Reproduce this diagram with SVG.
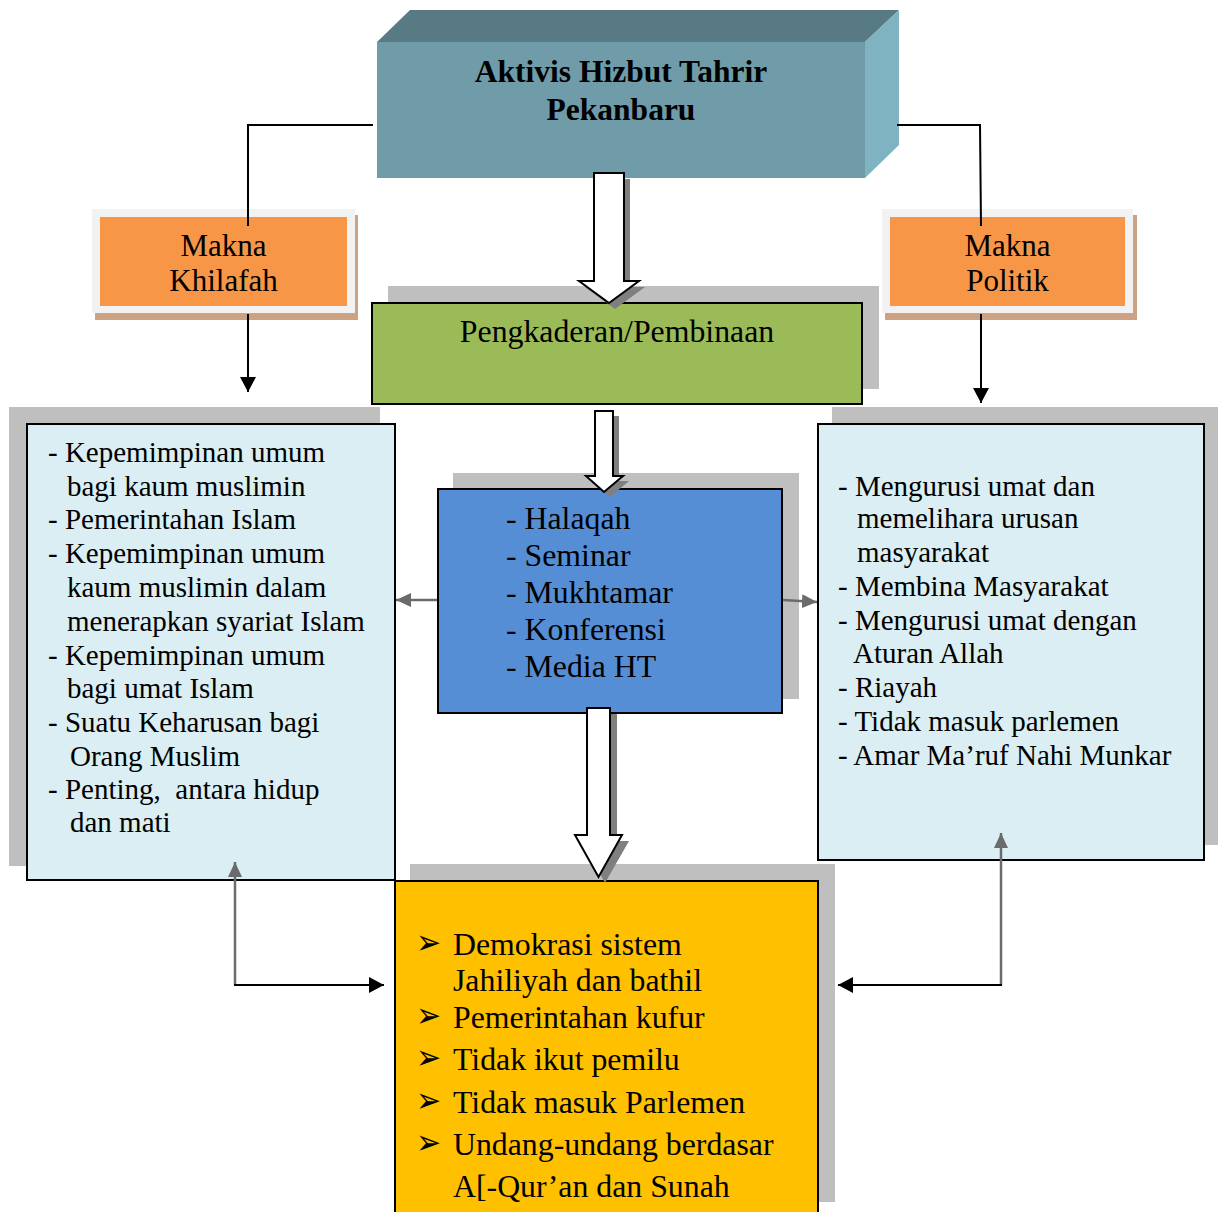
<svg xmlns="http://www.w3.org/2000/svg" width="1218" height="1212" viewBox="0 0 1218 1212">
<defs>
<style>
.t{font-family:"Liberation Serif","Times New Roman",serif;fill:#000;white-space:pre}
.s29{font-size:29px}
.s31{font-size:31px}
.s32{font-size:31.8px}
.c{text-anchor:middle}
.shadow{fill:#BFBFBF}
.ln{fill:none;stroke:#000;stroke-width:2}
.lg{fill:none;stroke:#6B6B6B;stroke-width:2.5}
.blk{fill:#fff;stroke:#000;stroke-width:2;stroke-linejoin:miter}
.bsh{fill:#7F7F7F}
.bul{font-family:"DejaVu Sans",sans-serif;font-size:30px}
</style>
<marker id="ab" markerUnits="userSpaceOnUse" markerWidth="16" markerHeight="16" refX="15" refY="8" orient="auto">
<path d="M0,0 L15,8 L0,16 Z" fill="#000"/>
</marker>
<marker id="ag" markerUnits="userSpaceOnUse" markerWidth="16" markerHeight="14" refX="15" refY="7" orient="auto">
<path d="M0,0 L15,7 L0,14 Z" fill="#6B6B6B"/>
</marker>
</defs>
<rect width="1218" height="1212" fill="#fff"/>

<g id="node-top">
<polygon points="377,42 410,10 899,10 865,42" fill="#587A84"/>
<polygon points="865,42 899,10 899,145 865,178" fill="#7FB3C2"/>
<rect x="377" y="42" width="488" height="136" fill="#6F9CA8"/>
<text class="t c" x="621" y="82" font-size="31.5" font-weight="bold">Aktivis Hizbut Tahrir</text>
<text class="t c" x="621" y="120" font-size="31.5" font-weight="bold">Pekanbaru</text>
</g>

<g id="node-khilafah">
<rect x="95" y="215" width="263" height="105" fill="#CDA283"/>
<rect x="92" y="209" width="263" height="104" fill="#F2F2F2"/>
<rect x="100" y="217" width="247" height="89" fill="#F79646"/>
<text class="t c s31" x="223.5" y="256">Makna</text>
<text class="t c s31" x="223.5" y="291">Khilafah</text>
</g>

<g id="node-politik">
<rect x="885" y="215" width="252" height="105" fill="#CDA283"/>
<rect x="882" y="209" width="251" height="104" fill="#F2F2F2"/>
<rect x="890" y="217" width="235" height="89" fill="#F79646"/>
<text class="t c s31" x="1007.5" y="256">Makna</text>
<text class="t c s31" x="1007.5" y="291">Politik</text>
</g>

<g id="node-pengkaderan">
<rect class="shadow" x="388" y="286" width="491" height="103"/>
<rect x="372" y="303" width="490" height="101" fill="#9BBB59" stroke="#000" stroke-width="2"/>
<text class="t c s32" x="617" y="342">Pengkaderan/Pembinaan</text>
</g>

<g id="node-khilafah-list">
<rect class="shadow" x="9" y="407" width="371" height="459"/>
<rect x="27" y="424" width="368" height="456" fill="#DAEEF3" stroke="#000" stroke-width="2"/>
<text class="t s29" x="48" y="462">- Kepemimpinan umum</text>
<text class="t s29" x="67" y="496">bagi kaum muslimin</text>
<text class="t s29" x="48" y="529">- Pemerintahan Islam</text>
<text class="t s29" x="48" y="563">- Kepemimpinan umum</text>
<text class="t s29" x="67" y="597">kaum muslimin dalam</text>
<text class="t s29" x="67" y="631">menerapkan syariat Islam</text>
<text class="t s29" x="48" y="665">- Kepemimpinan umum</text>
<text class="t s29" x="67" y="698">bagi umat Islam</text>
<text class="t s29" x="48" y="732">- Suatu Keharusan bagi</text>
<text class="t s29" x="70" y="766">Orang Muslim</text>
<text class="t s29" x="48" y="799">- Penting,  antara hidup</text>
<text class="t s29" x="70" y="832">dan mati</text>
</g>

<g id="node-politik-list">
<rect class="shadow" x="832" y="407" width="390" height="438"/>
<rect x="818" y="424" width="386" height="436" fill="#DAEEF3" stroke="#000" stroke-width="2"/>
<text class="t s29" x="838" y="496">- Mengurusi umat dan</text>
<text class="t s29" x="857" y="528">memelihara urusan</text>
<text class="t s29" x="857" y="562">masyarakat</text>
<text class="t s29" x="838" y="596">- Membina Masyarakat</text>
<text class="t s29" x="838" y="630">- Mengurusi umat dengan</text>
<text class="t s29" x="853" y="663">Aturan Allah</text>
<text class="t s29" x="838" y="697">- Riayah</text>
<text class="t s29" x="838" y="731">- Tidak masuk parlemen</text>
<text class="t s29" x="838" y="765">- Amar Ma’ruf Nahi Munkar</text>
</g>

<g id="node-kegiatan">
<rect class="shadow" x="453" y="473" width="346" height="226"/>
<rect x="438" y="489" width="344" height="224" fill="#558ED5" stroke="#000" stroke-width="2"/>
<text class="t s32" x="506" y="529">- Halaqah</text>
<text class="t s32" x="506" y="566">- Seminar</text>
<text class="t s32" x="506" y="603">- Mukhtamar</text>
<text class="t s32" x="506" y="640">- Konferensi</text>
<text class="t s32" x="506" y="677">- Media HT</text>
</g>

<g id="node-sikap">
<rect class="shadow" x="410" y="864" width="425" height="338"/>
<rect x="395" y="881" width="423" height="340" fill="#FFC000" stroke="#000" stroke-width="2"/>
<text class="bul" transform="translate(416,0) scale(1,1.15)"><tspan x="0" y="829.43">➢</tspan><tspan x="0" y="892.91">➢</tspan><tspan x="0" y="929.43">➢</tspan><tspan x="0" y="966.83">➢</tspan><tspan x="0" y="1003.35">➢</tspan></text>
<text class="t s32" x="453" y="955">Demokrasi sistem</text>
<text class="t s32" x="453" y="991">Jahiliyah dan bathil</text>
<text class="t s32" x="453" y="1028">Pemerintahan kufur</text>
<text class="t s32" x="453" y="1070">Tidak ikut pemilu</text>
<text class="t s32" x="453" y="1113">Tidak masuk Parlemen</text>
<text class="t s32" x="453" y="1155">Undang-undang berdasar</text>
<text class="t s32" x="453" y="1197">A[-Qur’an dan Sunah</text>
</g>

<g id="connectors">
<polyline class="ln" points="373,125 248,125 248,226"/>
<polyline class="ln" points="897,125 980,125 981,226"/>
<line class="ln" x1="248" y1="314" x2="248" y2="392" marker-end="url(#ab)"/>
<line class="ln" x1="981" y1="314" x2="981" y2="403" marker-end="url(#ab)"/>

<path class="bsh" d="M600,179 H630 V287 H645 L615,309 L585,287 H600 Z"/>
<path class="blk" d="M594,173 H624 V281 H639 L609,303 L579,281 H594 Z"/>

<path class="bsh" d="M601,416 H619 V481 H629 L610,497 L592,481 H601 Z"/>
<path class="blk" d="M595,411 H613 V476 H623 L604,492 L586,476 H595 Z"/>

<path class="bsh" d="M594,714 H617 V841 H629 L605,883 L582,841 H594 Z"/>
<path class="blk" d="M587,708 H610 V835 H622 L598.5,877 L575,835 H587 Z"/>

<line class="lg" x1="437" y1="600" x2="396" y2="600" marker-end="url(#ag)"/>
<line class="lg" x1="783" y1="600" x2="817" y2="602" marker-end="url(#ag)"/>

<line class="lg" x1="235" y1="985" x2="235" y2="862" marker-end="url(#ag)"/>
<line class="ln" x1="234" y1="985" x2="384" y2="985" marker-end="url(#ab)"/>
<line class="lg" x1="1001" y1="985" x2="1001" y2="833" marker-end="url(#ag)"/>
<line class="ln" x1="1002" y1="985" x2="838" y2="985" marker-end="url(#ab)"/>
</g>
</svg>
